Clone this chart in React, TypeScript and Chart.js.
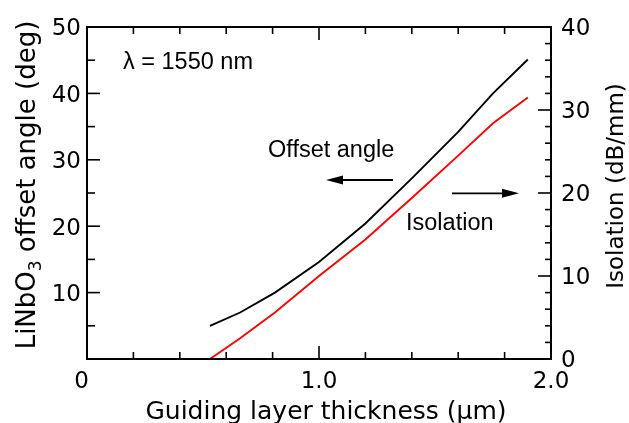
import React, { useEffect, useRef } from 'react';
import { Chart, registerables } from 'chart.js';

Chart.register(...registerables);

// ---- data ----
const thickness = [0.53, 0.66, 0.81, 1.0, 1.2, 1.4, 1.6, 1.75, 1.9];
const offsetAngle = [5.0, 7.0, 10.0, 14.6, 20.4, 27.2, 34.2, 40.0, 45.1];
const isolation = [0, 2.5, 5.6, 10.0, 14.4, 19.4, 24.5, 28.4, 31.5];

const xTickValues = [0, 1, 2];
const xTickLabels = ['0', '1.0', '2.0'];
const xMinorStep = 0.2;
const leftTickValues = [10, 20, 30, 40, 50];
const leftMinorStep = 5;
const rightTickValues = [0, 10, 20, 30, 40];
const rightMinorStep = 2;

const TICK_FONT = '23px "DejaVu Sans"';
const TITLE_FONT = '25px "DejaVu Sans"';
const NOTE_FONT = '23.5px "Liberation Sans", Arial, sans-serif';

function line(ctx: CanvasRenderingContext2D, x1: number, y1: number, x2: number, y2: number) {
  ctx.beginPath();
  ctx.moveTo(x1, y1);
  ctx.lineTo(x2, y2);
  ctx.stroke();
}

function arrow(ctx: CanvasRenderingContext2D, xFrom: number, xTo: number, y: number) {
  const dir = Math.sign(xTo - xFrom);
  const headLen = 17;
  const headHalf = 4.5;
  ctx.lineWidth = 1.8;
  line(ctx, xFrom, y, xTo - dir * headLen * 0.8, y);
  ctx.beginPath();
  ctx.moveTo(xTo, y);
  ctx.lineTo(xTo - dir * headLen, y - headHalf);
  ctx.lineTo(xTo - dir * headLen, y + headHalf);
  ctx.closePath();
  ctx.fill();
}

const decorPlugin = {
  id: 'decor',
  afterDatasetsDraw(chart: any) {
    const { ctx, chartArea: a, scales } = chart;
    const xs = scales.x;
    const ys = scales.y;
    const y2s = scales.y2;
    ctx.save();
    ctx.strokeStyle = '#000';
    ctx.fillStyle = '#000';

    // frame
    ctx.lineWidth = 2;
    ctx.strokeRect(a.left, a.top, a.right - a.left, a.bottom - a.top);

    // inward ticks
    ctx.lineWidth = 1.6;
    const nX = Math.round((xs.max - xs.min) / xMinorStep);
    for (let i = 0; i <= nX; i++) {
      const v = xs.min + i * xMinorStep;
      const px = xs.getPixelForValue(v);
      const major = Math.abs(v - Math.round(v)) < 1e-6;
      const len = major ? 13 : 7;
      line(ctx, px, a.bottom, px, a.bottom - len);
      line(ctx, px, a.top, px, a.top + len);
    }
    for (let v = ys.min; v <= ys.max + 1e-6; v += leftMinorStep) {
      const py = ys.getPixelForValue(v);
      const len = v % 10 === 0 ? 13 : 8;
      line(ctx, a.left, py, a.left + len, py);
    }
    for (let v = y2s.min; v <= y2s.max + 1e-6; v += rightMinorStep) {
      const py = y2s.getPixelForValue(v);
      const len = v % 10 === 0 ? 13 : 6;
      line(ctx, a.right - len, py, a.right, py);
    }

    // tick labels
    ctx.font = TICK_FONT;
    ctx.textBaseline = 'alphabetic';
    xTickValues.forEach((v, i) => {
      const px = xs.getPixelForValue(v);
      if (xTickLabels[i].indexOf('.') < 0) {
        ctx.textAlign = 'right';
        ctx.fillText(xTickLabels[i], px + 2, 388);
      } else {
        ctx.textAlign = 'center';
        ctx.fillText(xTickLabels[i], px, 388);
      }
    });
    ctx.textAlign = 'right';
    leftTickValues.forEach((v) => {
      ctx.fillText(String(v), a.left - 6, ys.getPixelForValue(v) + 8.4);
    });
    ctx.textAlign = 'left';
    rightTickValues.forEach((v) => {
      ctx.fillText(String(v), a.right + 10, y2s.getPixelForValue(v) + 8.4);
    });

    // axis titles
    ctx.font = TITLE_FONT;
    ctx.textAlign = 'center';
    ctx.fillText('Guiding layer thickness (\u03bcm)', 326, 418.5);

    // left title with subscript
    ctx.save();
    ctx.translate(35, 185);
    ctx.rotate(-Math.PI / 2);
    const mainFont = '26px "DejaVu Sans"';
    const subFont = '17px "DejaVu Sans"';
    ctx.textAlign = 'left';
    ctx.font = mainFont;
    const p1 = 'LiNbO';
    const p3 = ' offset angle (deg)';
    const w1 = ctx.measureText(p1).width;
    const w3 = ctx.measureText(p3).width;
    ctx.font = subFont;
    const w2 = ctx.measureText('3').width;
    let sx = -(w1 + w2 + w3) / 2;
    ctx.font = mainFont;
    ctx.fillText(p1, sx, 0);
    sx += w1;
    ctx.font = subFont;
    ctx.fillText('3', sx, 6);
    sx += w2;
    ctx.font = mainFont;
    ctx.fillText(p3, sx, 0);
    ctx.restore();

    // right title
    ctx.save();
    ctx.translate(623, 186);
    ctx.rotate(-Math.PI / 2);
    ctx.font = '23px "DejaVu Sans"';
    ctx.textAlign = 'center';
    ctx.fillText('Isolation (dB/mm)', 0, 0);
    ctx.restore();

    // annotations
    ctx.font = NOTE_FONT;
    ctx.textAlign = 'left';
    ctx.fillText('\u03bb = 1550 nm', 123, 68.5);
    ctx.fillText('Offset angle', 268, 156.7);
    ctx.fillText('Isolation', 406, 230);
    arrow(ctx, 393, 326, 180);
    arrow(ctx, 452, 519, 193.3);

    ctx.restore();
  },
};

export default function App() {
  const canvasRef = useRef<HTMLCanvasElement | null>(null);

  useEffect(() => {
    if (!canvasRef.current) return;
    const chart = new Chart(canvasRef.current, {
      type: 'line',
      data: {
        datasets: [
          {
            label: 'Offset angle',
            data: thickness.map((t, i) => ({ x: t, y: offsetAngle[i] })),
            borderColor: '#000000',
            borderWidth: 1.9,
            pointRadius: 0,
            tension: 0,
            fill: false,
            yAxisID: 'y',
          },
          {
            label: 'Isolation',
            data: thickness.map((t, i) => ({ x: t, y: isolation[i] })),
            borderColor: '#ff0000',
            borderWidth: 1.9,
            pointRadius: 0,
            tension: 0,
            fill: false,
            yAxisID: 'y2',
          },
        ],
      },
      options: {
        responsive: false,
        animation: false,
        layout: { padding: { top: 27, left: 0, right: 0, bottom: 0 } },
        plugins: { legend: { display: false }, tooltip: { enabled: false } },
        scales: {
          x: {
            type: 'linear',
            min: 0,
            max: 2,
            ticks: { display: false },
            grid: { display: false, drawTicks: false },
            border: { display: false },
            afterFit: (s: any) => { s.height = 64; },
          },
          y: {
            type: 'linear',
            position: 'left',
            min: 0,
            max: 50,
            ticks: { display: false },
            grid: { display: false, drawTicks: false },
            border: { display: false },
            afterFit: (s: any) => { s.width = 87; },
          },
          y2: {
            type: 'linear',
            position: 'right',
            min: 0,
            max: 40,
            ticks: { display: false },
            grid: { display: false, drawTicks: false },
            border: { display: false },
            afterFit: (s: any) => { s.width = 78; },
          },
        },
      },
      plugins: [decorPlugin],
    });
    return () => chart.destroy();
  }, []);

  return (
    <div style={{ position: 'fixed', left: 0, top: 0, width: 629, height: 423, background: '#ffffff' }}>
      <canvas ref={canvasRef} width={629} height={423} style={{ display: 'block' }} />
    </div>
  );
}
